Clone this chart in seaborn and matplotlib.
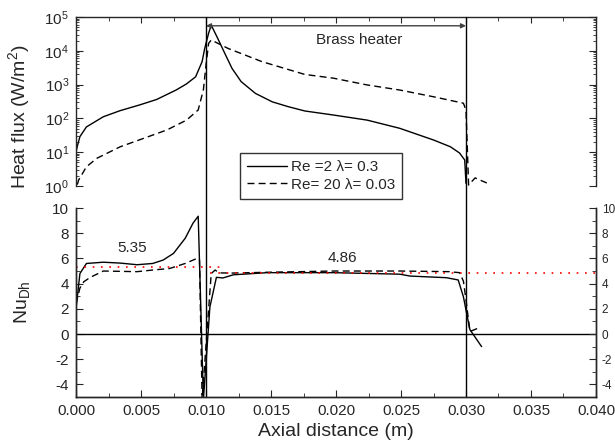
import pandas as pd
import matplotlib
matplotlib.use('Agg')
import matplotlib.pyplot as plt
import matplotlib.ticker as mticker
import matplotlib.transforms as mtransforms
import seaborn as sns

# --- heat flux along the wall (W/m2) ---
x_hf_re2 = [0.0, 0.0001, 0.0003, 0.0008, 0.0021, 0.0034, 0.0049, 0.0062, 0.0077, 0.0085,
            0.0092, 0.0097, 0.0099, 0.0102, 0.0104, 0.0109, 0.0115, 0.0120, 0.0127, 0.0138,
            0.0151, 0.0163, 0.0176, 0.0198, 0.0224, 0.0249, 0.0275, 0.0288, 0.0295, 0.0299, 0.0300]
hf_re2 = [10, 15, 29, 56, 112, 170, 251, 363, 692, 1050,
          1700, 4790, 11750, 33100, 57500, 23400, 7590, 3020, 1230, 550,
          309, 224, 166, 126, 89, 51, 23, 14.5, 9.5, 5.9, 1.2]

x_hf_re20 = [0.0001, 0.0002, 0.0008, 0.0016, 0.0034, 0.0052, 0.0070, 0.0085, 0.0094, 0.0098,
             0.0100, 0.0102, 0.0104, 0.0117, 0.0143, 0.0176, 0.0198, 0.0224, 0.0249, 0.0275,
             0.0298, 0.0300, 0.0302, 0.0307, 0.0316]
hf_re20 = [1.1, 1.5, 3.7, 6.6, 14.5, 25.7, 45.7, 89, 178, 708,
           3800, 16600, 20900, 11750, 4790, 2000, 1550, 977, 692, 437,
           282, 178, 1.07, 1.74, 1.23]

# --- Nusselt number ---
x_nu_re2 = [0.0, 0.0003, 0.0008, 0.0021, 0.0034, 0.0047, 0.0059, 0.0067, 0.0075, 0.0084,
            0.0090, 0.0094, 0.0098, 0.0103, 0.0108, 0.0113, 0.0121, 0.0147, 0.0198, 0.0249,
            0.0257, 0.0285, 0.0294, 0.0298, 0.0300, 0.0303, 0.0312]
nu_re2 = [2.0, 4.8, 5.6, 5.7, 5.63, 5.5, 5.6, 5.87, 6.4, 7.6,
          8.8, 9.35, -5.2, 2.15, 4.5, 4.45, 4.7, 4.87, 4.87, 4.75,
          4.6, 4.47, 4.29, 2.96, 1.9, 0.35, -1.0]

x_nu_re20 = [0.0, 0.0003, 0.0006, 0.0011, 0.0015, 0.0021, 0.0047, 0.0059, 0.0072, 0.0084,
             0.0093, 0.0095, 0.0097, 0.0104, 0.0107, 0.0110, 0.0121, 0.0147, 0.0198, 0.0249,
             0.0287, 0.0295, 0.0298, 0.0300, 0.0303, 0.0309]
nu_re20 = [2.4, 3.65, 4.15, 4.5, 4.7, 5.0, 4.95, 5.08, 5.2, 5.6,
           6.0, 5.9, -5.2, 4.8, 5.08, 4.85, 4.84, 4.9, 5.0, 5.0,
           4.95, 4.87, 4.2, 2.7, 0.2, 0.45]

heater_start, heater_end = 0.010, 0.030
nu_mean_up, nu_mean_up_x = 5.35, [0.0, 0.0111]
nu_mean_heater, nu_mean_heater_x = 4.86, [0.0103, 0.040]
labels = ['Re =2 \u03bb= 0.3', 'Re= 20 \u03bb= 0.03']

df_hf2 = pd.DataFrame({'x': x_hf_re2, 'y': hf_re2})
df_hf20 = pd.DataFrame({'x': x_hf_re20, 'y': hf_re20})
df_nu2 = pd.DataFrame({'x': x_nu_re2, 'y': nu_re2})
df_nu20 = pd.DataFrame({'x': x_nu_re20, 'y': nu_re20})

sns.set_style('ticks')
plt.rcParams['font.family'] = ['Liberation Sans', 'DejaVu Sans']
plt.rcParams['axes.unicode_minus'] = False
plt.rcParams['axes.linewidth'] = 1.0

fig = plt.figure(figsize=(6.15, 4.43), dpi=100)
ax_top = fig.add_axes([0.1236, 0.5801, 0.8455, 0.3815])
ax_bot = fig.add_axes([0.1236, 0.1038, 0.8455, 0.4266])

dash = (0, (5, 3))

# --- top: heat flux ---
ax_top.set_yscale('log')
sns.lineplot(data=df_hf2, x='x', y='y', ax=ax_top, color='black', lw=1,
             estimator=None, sort=False, label=labels[0])
sns.lineplot(data=df_hf20, x='x', y='y', ax=ax_top, color='black', lw=1, linestyle=dash,
             estimator=None, sort=False, label=labels[1])
ax_top.set_xlim(0, 0.04)
ax_top.set_ylim(1, 1e5)
ax_top.spines['bottom'].set_visible(False)
ax_top.xaxis.set_major_locator(mticker.MultipleLocator(0.005))
ax_top.xaxis.set_minor_locator(mticker.MultipleLocator(0.0025))
ax_top.tick_params(axis='x', which='both', direction='in', top=True, bottom=False,
                   labelbottom=False, labeltop=False)
ax_top.tick_params(axis='x', which='major', length=4)
ax_top.tick_params(axis='x', which='minor', length=3)
ax_top.yaxis.set_major_locator(mticker.LogLocator(base=10, numticks=10))
ax_top.yaxis.set_minor_locator(mticker.LogLocator(base=10, subs=range(2, 10), numticks=10))
ax_top.yaxis.set_minor_formatter(mticker.NullFormatter())
ax_top.tick_params(axis='y', which='both', direction='in', left=True, right=True, labelsize=11, pad=5)
ax_top.tick_params(axis='y', which='major', length=5)
ax_top.tick_params(axis='y', which='minor', length=2.5)
ax_top.set_xlabel('')
ax_top.set_ylabel('Heat flux (W/m$^{\\mathdefault{2}}$)', fontsize=14)
ax_top.yaxis.set_label_coords(-0.083, 0.41)
ax_top.annotate('', xy=(heater_end, 5.5e4), xytext=(heater_start, 5.5e4),
                arrowprops=dict(arrowstyle='<|-|>', color='0.25', lw=1, mutation_scale=7,
                                shrinkA=0, shrinkB=0))
ax_top.text((heater_start + heater_end) / 2 + 0.0018, 2.1e4, 'Brass heater',
            ha='center', va='center', fontsize=11)

handles, _ = ax_top.get_legend_handles_labels()
ax_top.get_legend().remove()
leg = fig.legend(handles, labels, loc='upper left', bbox_to_anchor=(240 / 615, 1 - 153 / 443),
                 fontsize=11, frameon=True, fancybox=False, edgecolor='black',
                 handlelength=2.6, handletextpad=0.3, labelspacing=0.25, borderpad=0.45,
                 borderaxespad=0)
leg.get_frame().set_linewidth(1)

# --- bottom: Nusselt number ---
sns.lineplot(data=df_nu2, x='x', y='y', ax=ax_bot, color='black', lw=1,
             estimator=None, sort=False)
sns.lineplot(data=df_nu20, x='x', y='y', ax=ax_bot, color='black', lw=1, linestyle=dash,
             estimator=None, sort=False)
ax_bot.plot(nu_mean_up_x, [nu_mean_up] * 2, color='red', lw=1.2, linestyle=(0, (1, 4)))
ax_bot.plot(nu_mean_heater_x, [nu_mean_heater] * 2, color='red', lw=1.2, linestyle=(0, (1, 4)))
ax_bot.axhline(0, color='black', lw=1)
ax_bot.text(0.00435, 6.85, '5.35', ha='center', va='center', fontsize=11)
ax_bot.text(0.0205, 6.05, '4.86', ha='center', va='center', fontsize=11)
ax_bot.set_xlim(0, 0.04)
ax_bot.set_ylim(-5, 10)
ax_bot.spines['top'].set_visible(False)
ax_bot.xaxis.set_major_locator(mticker.MultipleLocator(0.005))
ax_bot.xaxis.set_minor_locator(mticker.MultipleLocator(0.0025))
ax_bot.xaxis.set_major_formatter(mticker.FormatStrFormatter('%.3f'))
ax_bot.yaxis.set_major_locator(mticker.MultipleLocator(2))
ax_bot.yaxis.set_minor_locator(mticker.MultipleLocator(1))
ax_bot.tick_params(axis='both', which='both', direction='in', labelsize=11, pad=5)
ax_bot.tick_params(axis='both', which='major', length=5)
ax_bot.tick_params(axis='both', which='minor', length=3)
ax_bot.set_xlabel('Axial distance (m)', fontsize=14)
ax_bot.set_ylabel('Nu$_{\\mathdefault{Dh}}$', fontsize=14)
ax_bot.yaxis.set_label_coords(-0.083, 0.5)
ax_bot.xaxis.set_label_coords(0.5, -0.135)

ax_r = ax_bot.twinx()
ax_r.set_ylim(-5, 10)
ax_r.spines['top'].set_visible(False)
ax_r.yaxis.set_major_locator(mticker.MultipleLocator(2))
ax_r.yaxis.set_minor_locator(mticker.MultipleLocator(1))
ax_r.tick_params(axis='y', which='both', direction='in', labelsize=8.5, pad=4)
ax_r.tick_params(axis='y', which='major', length=5)
ax_r.tick_params(axis='y', which='minor', length=3)

# heater edges span both panels
trans = mtransforms.blended_transform_factory(ax_bot.transData, fig.transFigure)
for xe in (heater_start, heater_end):
    ax_bot.plot([xe, xe], [1 - 397 / 443, 1 - 17 / 443], transform=trans, color='black',
                lw=1, clip_on=False)

fig.savefig('out.png', dpi=100)
